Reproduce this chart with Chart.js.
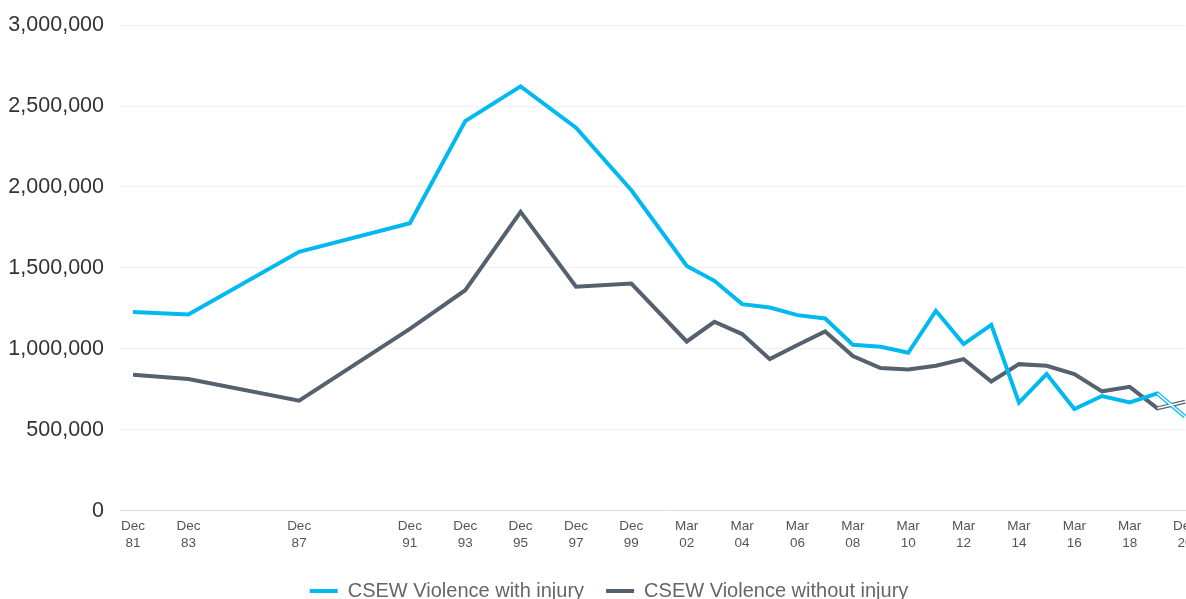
<!DOCTYPE html>
<html>
<head>
<meta charset="utf-8">
<script src="https://cdn.jsdelivr.net/npm/chart.js@4"></script>
<style>
    html, body { margin: 0; padding: 0; background: #fff; overflow: hidden; }
    #wrap { position: absolute; left: 0; top: 0; width: 1210px; height: 611px; }
</style>
</head>
<body>
<div id="wrap"><canvas id="violenceChart"></canvas></div>
<script>
// survey periods and their place on the time axis (years from Dec 81)
const periods = ['Dec 81', 'Dec 83', 'Dec 87', 'Dec 91', 'Dec 93', 'Dec 95', 'Dec 97', 'Dec 99',
    'Mar 02', 'Mar 03', 'Mar 04', 'Mar 05', 'Mar 06', 'Mar 07', 'Mar 08', 'Mar 09', 'Mar 10',
    'Mar 11', 'Mar 12', 'Mar 13', 'Mar 14', 'Mar 15', 'Mar 16', 'Mar 17', 'Mar 18', 'Mar 19', 'Dec 20'];
const slots = [0, 2, 6, 10, 12, 14, 16, 18,
    20, 21, 22, 23, 24, 25, 26, 27, 28, 29, 30, 31, 32, 33, 34, 35, 36, 37, 38];

const withInjury = [1228000, 1212000, 1599000, 1776000, 2407000, 2622000, 2366000, 1980000,
    1512000, 1420000, 1276000, 1255000, 1208000, 1187000, 1025000, 1012000, 975000,
    1235000, 1029000, 1148000, 667000, 844000, 628000, 708000, 669000, 724000, 580000];
const withoutInjury = [840000, 813000, 679000, 1123000, 1362000, 1846000, 1383000, 1403000,
    1045000, 1167000, 1091000, 936000, 1023000, 1107000, 955000, 881000, 872000,
    895000, 936000, 798000, 905000, 895000, 844000, 737000, 765000, 632000, 673000];

const tickSlots = [0, 2, 6, 10, 12, 14, 16, 18, 20, 22, 24, 26, 28, 30, 32, 34, 36, 38];
const yTicks = [0, 500000, 1000000, 1500000, 2000000, 2500000, 3000000];

const cyan = '#00b9f1';
const slate = '#55616c';

// 组合成点
const toPoints = vals => vals.map((v, i) => ({ x: slots[i], y: v }));

// 最后一段是空心线
const lastSeg = vals => toPoints(vals).slice(-2);

const ctx = document.getElementById('violenceChart').getContext('2d');
new Chart(ctx, {
    type: 'line',
    data: {
        datasets: [
            { label: 'hollow-a', data: lastSeg(withInjury), borderColor: '#fff', borderWidth: 1.6, order: 0 },
            { label: 'hollow-b', data: lastSeg(withoutInjury), borderColor: '#fff', borderWidth: 1.6, order: 0 },
            { label: 'CSEW Violence with injury', data: toPoints(withInjury), borderColor: cyan, backgroundColor: cyan, borderWidth: 4, order: 1 },
            { label: 'CSEW Violence without injury', data: toPoints(withoutInjury), borderColor: slate, backgroundColor: slate, borderWidth: 4, order: 2 },
        ]
    },
    options: {
        responsive: true,
        maintainAspectRatio: false,
        animation: false,
        layout: { padding: { left: 8, top: 4, right: 0, bottom: 0 } },
        elements: {
            point: { radius: 0, hoverRadius: 0 },
            line: { tension: 0, borderJoinStyle: 'miter', borderCapStyle: 'butt' }
        },
        plugins: {
            tooltip: { enabled: false },
            legend: {
                position: 'bottom',
                labels: {
                    boxWidth: 28,
                    boxHeight: 4,
                    padding: 22,
                    color: '#666',
                    font: { family: 'Liberation Sans', size: 20 },
                    filter: item => !item.text.startsWith('hollow'),
                    generateLabels: chart => Chart.defaults.plugins.legend.labels.generateLabels(chart)
                        .map(l => ({ ...l, lineWidth: 0 }))
                }
            }
        },
        scales: {
            x: {
                type: 'linear',
                min: -0.47,
                max: 38.9,
                afterBuildTicks: axis => { axis.ticks = tickSlots.map(v => ({ value: v })); },
                grid: { display: false, drawTicks: false },
                border: { display: true, color: '#dcdcdc', width: 1 },
                ticks: {
                    autoSkip: false,
                    maxRotation: 0,
                    padding: 8,
                    color: '#555',
                    font: { family: 'Liberation Sans', size: 13.5, lineHeight: 1.2 },
                    callback: v => {
                        const p = periods[slots.indexOf(v)];
                        return p ? p.split(' ') : '';
                    }
                }
            },
            y: {
                min: 0,
                max: 3000000,
                afterBuildTicks: axis => { axis.ticks = yTicks.map(v => ({ value: v })); },
                afterFit: axis => { axis.width = 112; },
                grid: { color: '#e6e6e6', lineWidth: 1, drawTicks: false },
                border: { display: false, dash: [1, 1] },
                ticks: {
                    padding: 16,
                    color: '#333',
                    font: { family: 'Liberation Sans', size: 21.5, lineHeight: 0.85 },
                    callback: v => v.toLocaleString('en-US')
                }
            }
        }
    }
});
</script>
</body>
</html>
